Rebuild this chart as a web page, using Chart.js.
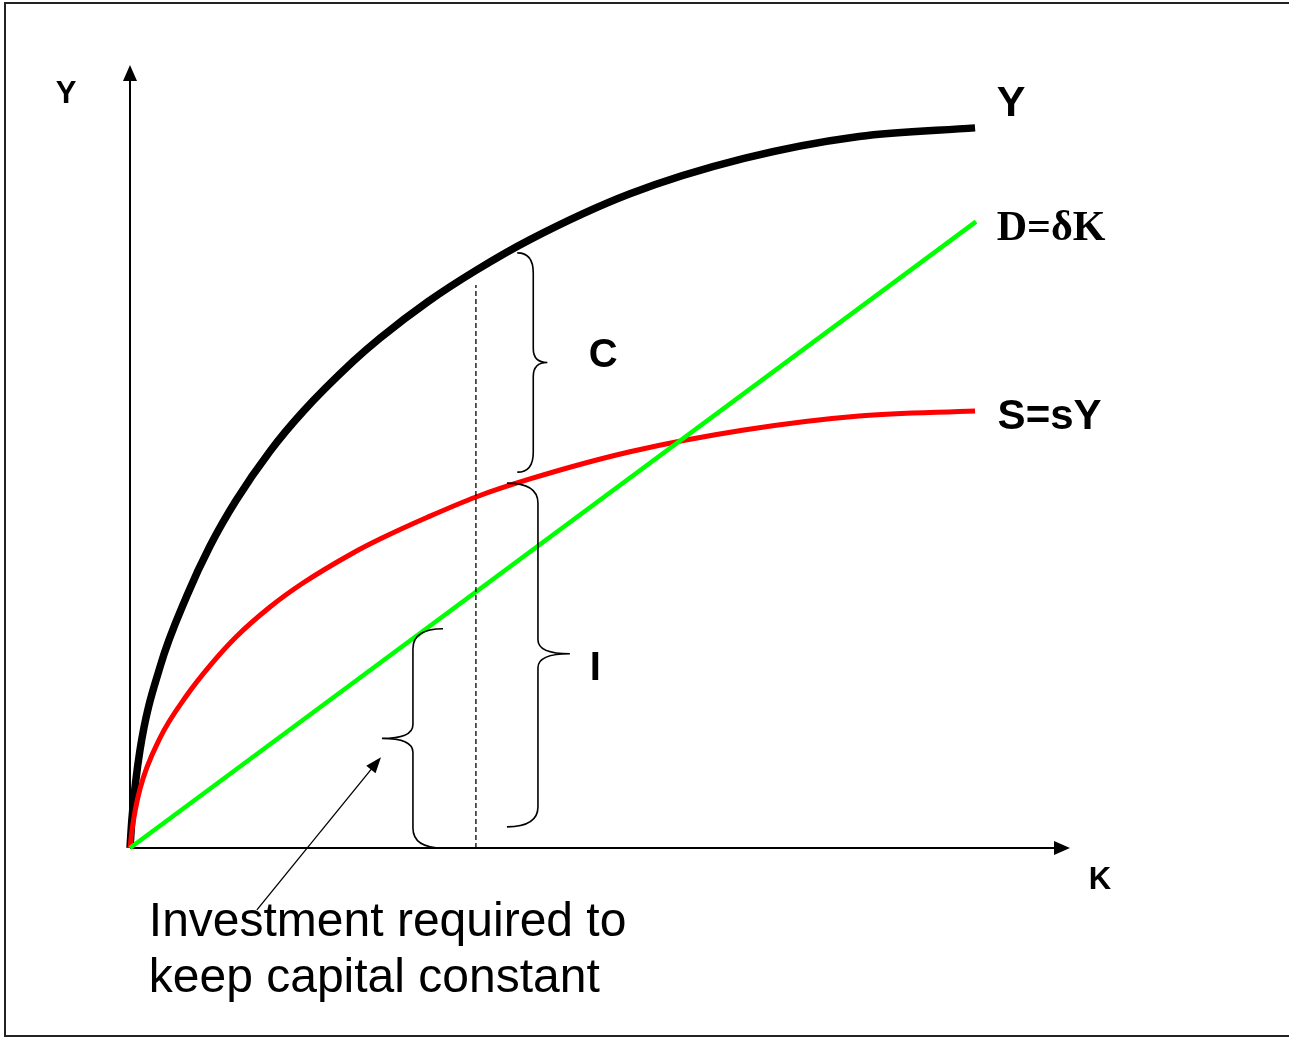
<!DOCTYPE html>
<html>
<head>
<meta charset="utf-8">
<script src="https://cdn.jsdelivr.net/npm/chart.js@4"></script>
<style>
  html, body { margin: 0; padding: 0; background: #fff; }
  canvas { display: block; }
</style>
</head>
<body>
<canvas id="solow" width="1289" height="1038"></canvas>
<script>
// capital stock positions where the curves were read
const capital = [0, 0.213, 1.064, 3.191, 6.064, 8.511, 11.277, 14.894, 18.404, 23.723, 26.596, 31.702, 36.809, 42.553, 53.191, 65.319, 77.553, 89.9];

// output curve Y(K)
const outputY = [0, 3.83, 12.52, 23.12, 32.25, 38.57, 44.38, 50.68, 55.73, 62.12, 65.12, 69.78, 73.77, 77.70, 83.55, 88.07, 90.87, 91.97];

// saving curve S = sY
const savingS = [0, 2.30, 7.54, 14.05, 19.54, 23.30, 26.95, 30.78, 33.84, 37.68, 39.46, 42.27, 44.83, 47.13, 50.60, 53.38, 55.17, 55.81];

// depreciation line D = dK
const capitalD = [0, 90];
const deprecD  = [0, 80];

// dashed guide at a chosen K
const capitalGuide = [36.8, 36.8];
const guideY       = [0, 71.9];

const pts = (xs, ys) => xs.map((x, i) => ({ x: x, y: ys[i] }));

// braces: end x, spine x, tip x, top y, bottom y, tip y (data units)
const braces = [
  { xe: 41.2, xs: 42.9, xt: 44.4, top: 76.0, bot: 48.0, tip: 62.0 },
  { xe: 40.1, xs: 43.4, xt: 46.8, top: 46.6, bot: 2.7, tip: 24.8 },
  { xe: 33.3, xs: 30.1, xt: 26.8, top: 28.0, bot: 0.0, tip: 14.0 }
];

const labels = [
  { text: 'Y', x: -6.8, y: 95.1, font: 'bold 31px "Liberation Sans"', align: 'center' },
  { text: 'K', x: 102.0, y: -5.2, font: 'bold 31px "Liberation Sans"', align: 'left' },
  { text: 'Y', x: 92.2, y: 93.5, font: 'bold 43px "Liberation Sans"', align: 'left' },
  { text: 'D=δK', x: 92.2, y: 77.65, font: 'bold 42px "Liberation Serif"', align: 'left' },
  { text: 'S=sY', x: 92.3, y: 53.5, font: 'bold 42px "Liberation Sans"', align: 'left' },
  { text: 'C', x: 48.8, y: 61.4, font: 'bold 40px "Liberation Sans"', align: 'left' },
  { text: 'I', x: 48.9, y: 21.5, font: 'bold 40px "Liberation Sans"', align: 'left' },
  { text: 'Investment required to', x: 2.0, y: -11.2, font: '48px "Liberation Sans"', align: 'left' },
  { text: 'keep capital constant', x: 2.0, y: -18.4, font: '48px "Liberation Sans"', align: 'left' }
];

function drawBrace(ctx, b, sx, sy) {
  const xe = sx.getPixelForValue(b.xe), xs = sx.getPixelForValue(b.xs), xt = sx.getPixelForValue(b.xt);
  const top = sy.getPixelForValue(b.top), bot = sy.getPixelForValue(b.bot), tip = sy.getPixelForValue(b.tip);
  const r = 20, rt = 14;
  ctx.beginPath();
  ctx.moveTo(xe, top);
  ctx.quadraticCurveTo(xs, top, xs, top + r);
  ctx.lineTo(xs, tip - rt);
  ctx.quadraticCurveTo(xs, tip, xt, tip);
  ctx.quadraticCurveTo(xs, tip, xs, tip + rt);
  ctx.lineTo(xs, bot - r);
  ctx.quadraticCurveTo(xs, bot, xe, bot);
  ctx.stroke();
}

function arrowHead(ctx, x0, y0, x1, y1, len, half) {
  const a = Math.atan2(y1 - y0, x1 - x0);
  ctx.beginPath();
  ctx.moveTo(x1, y1);
  ctx.lineTo(x1 - len * Math.cos(a) + half * Math.sin(a), y1 - len * Math.sin(a) - half * Math.cos(a));
  ctx.lineTo(x1 - len * Math.cos(a) - half * Math.sin(a), y1 - len * Math.sin(a) + half * Math.cos(a));
  ctx.closePath();
  ctx.fill();
}

const framePlugin = {
  id: 'frame',
  beforeDraw(chart) {
    const ctx = chart.ctx;
    ctx.save();
    ctx.fillStyle = '#fff';
    ctx.fillRect(0, 0, chart.width, chart.height);
    ctx.strokeStyle = '#222';
    ctx.lineWidth = 2;
    ctx.beginPath();
    ctx.moveTo(chart.width, 3);
    ctx.lineTo(5, 3);
    ctx.lineTo(5, 1036);
    ctx.lineTo(chart.width, 1036);
    ctx.stroke();

    // axes with arrows
    const a = chart.chartArea;
    ctx.strokeStyle = '#000';
    ctx.fillStyle = '#000';
    ctx.lineWidth = 2;
    ctx.beginPath();
    ctx.moveTo(a.left, a.bottom);
    ctx.lineTo(a.left, a.top + 10);
    ctx.moveTo(a.left, a.bottom);
    ctx.lineTo(a.right - 10, a.bottom);
    ctx.stroke();
    arrowHead(ctx, a.left, a.bottom, a.left, a.top, 16, 7);
    arrowHead(ctx, a.left, a.bottom, a.right, a.bottom, 16, 7);
    ctx.restore();
  },
  afterDatasetsDraw(chart) {
    const ctx = chart.ctx, sx = chart.scales.x, sy = chart.scales.y;
    ctx.save();
    ctx.strokeStyle = '#000';
    ctx.fillStyle = '#000';
    ctx.lineWidth = 1.6;
    braces.forEach(b => drawBrace(ctx, b, sx, sy));

    // pointer to the small brace
    const x0 = sx.getPixelForValue(13.5), y0 = sy.getPixelForValue(-7.9);
    const x1 = sx.getPixelForValue(26.7), y1 = sy.getPixelForValue(11.6);
    ctx.lineWidth = 1.3;
    ctx.beginPath();
    ctx.moveTo(x0, y0);
    ctx.lineTo(x1 - 8, y1 + 10);
    ctx.stroke();
    arrowHead(ctx, x0, y0, x1, y1, 16, 6);

    ctx.textBaseline = 'alphabetic';
    labels.forEach(l => {
      ctx.font = l.font;
      ctx.textAlign = l.align;
      ctx.fillText(l.text, sx.getPixelForValue(l.x), sy.getPixelForValue(l.y));
    });
    ctx.restore();
  }
};

new Chart(document.getElementById('solow'), {
  type: 'line',
  data: {
    datasets: [
      { label: 'guide', data: pts(capitalGuide, guideY), borderColor: '#000', borderWidth: 1.3, borderDash: [5, 3] },
      { label: 'D=δK', data: pts(capitalD, deprecD), borderColor: '#00ff00', borderWidth: 4.5 },
      { label: 'S=sY', data: pts(capital, savingS), borderColor: '#ff0000', borderWidth: 5, cubicInterpolationMode: 'monotone' },
      { label: 'Y', data: pts(capital, outputY), borderColor: '#000', borderWidth: 7.5, cubicInterpolationMode: 'monotone' }
    ]
  },
  options: {
    responsive: false,
    animation: false,
    devicePixelRatio: 1,
    layout: { padding: { left: 130, right: 219, top: 65, bottom: 190 } },
    elements: { point: { radius: 0 } },
    datasets: { line: { clip: false, fill: false } },
    plugins: { legend: { display: false }, tooltip: { enabled: false } },
    scales: {
      x: { type: 'linear', min: 0, max: 100, display: false },
      y: { type: 'linear', min: 0, max: 100, display: false }
    }
  },
  plugins: [framePlugin]
});
</script>
</body>
</html>
